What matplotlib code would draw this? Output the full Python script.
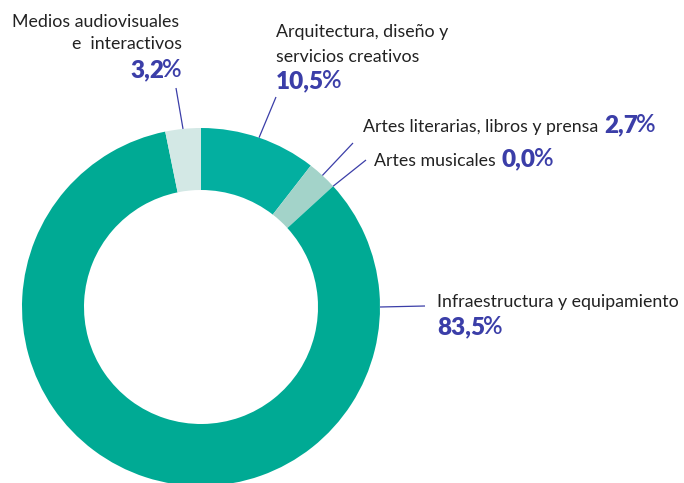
import numpy as np
import matplotlib
matplotlib.use("Agg")
from matplotlib import pyplot as plt

# data, clockwise from 12 o'clock
categories = ["Arquitectura, diseño y\nservicios creativos",
              "Artes literarias, libros y prensa",
              "Artes musicales",
              "Infraestructura y equipamiento",
              "Medios audiovisuales\ne  interactivos"]
values = [10.5, 2.7, 0.0, 83.5, 3.2]
pct_labels = ["10,5%", "2,7%", "0,0%", "83,5%", "3,2%"]

colors = ["#03AFA0", "#A3D3C9", "#A3D3C9", "#00AA94", "#D3E8E5"]
text_color = "#222222"
blue = "#3B3EA8"

plt.rcParams['font.family'] = ['Lato', 'DejaVu Sans']

W, H = 684, 483
cx, cy, R = 201, 307, 179          # donut centre / outer radius in pixels
ring = (179 - 117) / 179


def px(x, y):
    # pixel (top-left origin) -> data coords of the pie axes
    return (x - cx) / R, (cy - y) / R


fig = plt.figure(figsize=(W / 100, H / 100), dpi=100)
ax = fig.add_axes([0, 0, 1, 1])
ax.pie(values, colors=colors, startangle=90, counterclock=False, radius=1,
       normalize=True, wedgeprops=dict(width=ring, linewidth=0))
ax.set_xlim(px(0, 0)[0], px(W, 0)[0])
ax.set_ylim(px(0, H)[1], px(0, 0)[1])
ax.axis('off')

# angle (deg, clockwise from top) where each leader touches the ring
frac = np.array(values) / np.sum(values)
start = np.concatenate([[0], np.cumsum(frac)[:-1]])
mid = (start + frac / 2) * 360
mid[3] = 90  # big slice: leader leaves from 3 o'clock

# label layout: (line end px, [(text, x, baseline, ha, kind)])
layout = [
    ((276, 97), [("Arquitectura, diseño y", 276, 37, 'left', 'n'),
                 ("servicios creativos", 276, 62, 'left', 'n'),
                 (None, 276, 88, 'left', 'b')]),
    ((353, 143), [("Artes literarias, libros y prensa", 363, 132, 'left', 'i')]),
    ((366, 160), [("Artes musicales", 374, 166, 'left', 'i')]),
    ((425, 306), [("Infraestructura y equipamiento", 437, 307, 'left', 'n'),
                  (None, 437, 334, 'left', 'b')]),
    ((176, 88), [("Medios audiovisuales", 179, 27, 'right', 'n'),
                 ("e  interactivos", 182, 49, 'right', 'n'),
                 (None, 182, 77, 'right', 'b')]),
]

nfs, bfs = 12.8, 17.5
inline = []
pcts = []
for i, (end, lines) in enumerate(layout):
    a = np.deg2rad(90 - mid[i])
    ex, ey = px(*end)
    ax.plot([np.cos(a), ex], [np.sin(a), ey], color=blue, lw=0.9,
            solid_capstyle='butt')
    for txt, x, y, ha, kind in lines:
        tx, ty = px(x, y)
        if kind == 'b':
            pcts.append((i, tx, ty, ha))
        else:
            t = ax.text(tx, ty, txt, ha=ha, va='baseline', fontsize=nfs,
                        color=text_color)
            if kind == 'i':
                inline.append((t, i, ty))

fig.canvas.draw()
r = fig.canvas.get_renderer()
inv = ax.transData.inverted()

# percentages that follow the label on the same line
for t, i, ty in inline:
    bb = t.get_window_extent(renderer=r)
    x0 = inv.transform((bb.x1 + 6, 0))[0]
    pcts.append((i, x0, ty, 'left'))


def pct_text(s, tx, ty, ha):
    # heavy digits, lighter % sign
    t1 = ax.text(tx, ty, s[:-1], ha='left', va='baseline', fontsize=bfs,
                 fontweight='heavy', color=blue)
    t2 = ax.text(tx, ty, s[-1], ha='left', va='baseline', fontsize=bfs,
                 fontweight='semibold', color=blue)
    w1 = t1.get_window_extent(renderer=r).width
    w2 = t2.get_window_extent(renderer=r).width
    gap = -2
    x_disp = ax.transData.transform((tx, ty))[0]
    if ha == 'right':
        x_disp -= w1 + w2 + gap
    t1.set_x(inv.transform((x_disp, 0))[0])
    t2.set_x(inv.transform((x_disp + w1 + gap, 0))[0])


for i, tx, ty, ha in pcts:
    pct_text(pct_labels[i], tx, ty, ha)

fig.savefig("out.png", dpi=100)
